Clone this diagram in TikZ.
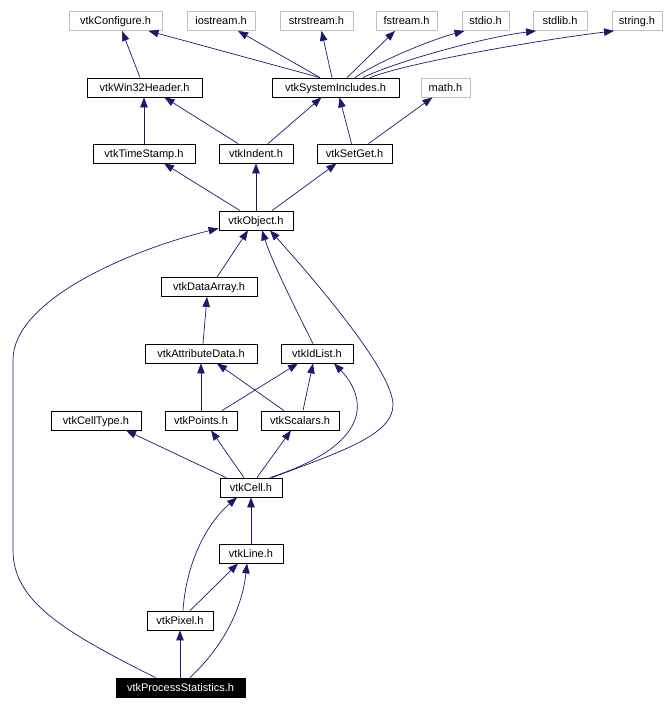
\documentclass[tikz,border=0pt]{standalone}
\usepackage{fontspec}
\setmainfont{Liberation Sans}
\usetikzlibrary{arrows.meta}
\definecolor{navy}{HTML}{191970}
\definecolor{lgray}{HTML}{BFBFBF}
\tikzset{
  hbox/.style={draw=black, fill=white, line width=0.8pt, minimum height=19pt, inner sep=0pt,
    text height=8pt, text depth=0.5pt, font=\fontsize{11}{13}\selectfont, text=black},
  gbox/.style={hbox, draw=lgray},
  mbox/.style={hbox, fill=black, text=white},
  edge/.style={draw=navy, line width=0.7pt, -{Triangle[length=10pt,width=7.5pt]}}
}
\begin{document}
\begin{tikzpicture}[x=1pt,y=-1pt]
\useasboundingbox[fill=white] (0,0) rectangle (666,709);
% top row
\node[gbox, minimum width=93pt] (conf) at (115.5,21) {vtkConfigure.h};
\node[gbox, minimum width=68pt] (iost) at (221,21) {iostream.h};
\node[gbox, minimum width=73pt] (strs) at (316.5,21) {strstream.h};
\node[gbox, minimum width=61pt] (fstr) at (406.5,21) {fstream.h};
\node[gbox, minimum width=47pt] (stdio) at (485.5,21) {stdio.h};
\node[gbox, minimum width=54pt] (stdlib) at (560,21) {stdlib.h};
\node[gbox, minimum width=50pt] (string) at (637,21) {string.h};
% row 2
\node[hbox, minimum width=115pt] (win32) at (144.5,87.5) {vtkWin32Header.h};
\node[hbox, minimum width=127pt] (sysinc) at (335.5,87.5) {vtkSystemIncludes.h};
\node[gbox, minimum width=49pt] (math) at (445.5,87.5) {math.h};
% row 3
\node[hbox, minimum width=102pt] (tstamp) at (144,153.5) {vtkTimeStamp.h};
\node[hbox, minimum width=74pt] (indent) at (256,153.5) {vtkIndent.h};
\node[hbox, minimum width=75pt] (setget) at (354.5,153.5) {vtkSetGet.h};
% object
\node[hbox, minimum width=74pt] (object) at (256,220.5) {vtkObject.h};
\node[hbox, minimum width=96pt] (darray) at (209,287) {vtkDataArray.h};
\node[hbox, minimum width=112pt] (attr) at (201,353.5) {vtkAttributeData.h};
\node[hbox, minimum width=72pt] (idlist) at (317,353.5) {vtkIdList.h};
\node[hbox, minimum width=90pt] (celltype) at (96,420.5) {vtkCellType.h};
\node[hbox, minimum width=72pt] (points) at (201,420.5) {vtkPoints.h};
\node[hbox, minimum width=78pt] (scalars) at (300,420.5) {vtkScalars.h};
\node[hbox, minimum width=62pt] (cell) at (251,487.5) {vtkCell.h};
\node[hbox, minimum width=64pt] (line) at (251,553.5) {vtkLine.h};
\node[hbox, minimum width=66pt] (pixel) at (180,620.5) {vtkPixel.h};
\node[mbox, minimum width=129pt] (proc) at (180.5,687.5) {vtkProcessStatistics.h};

% edges to top row
\draw[edge] ([xshift=-4.5pt]win32.north) -- ([xshift=6.5pt]conf.south);
\draw[edge] ([xshift=-15.5pt]sysinc.north) -- ([xshift=33pt]conf.south);
\draw[edge] ([xshift=-15.5pt]sysinc.north) -- ([xshift=17pt]iost.south);
\draw[edge] ([xshift=-3.5pt]sysinc.north) -- ([xshift=5pt]strs.south);
\draw[edge] ([xshift=11.5pt]sysinc.north) -- ([xshift=-11.5pt]fstr.south);
\draw[edge] ([xshift=19.5pt]sysinc.north) .. controls (375,63) and (430,40) .. ([xshift=-21pt]stdio.south);
\draw[edge] ([xshift=27.5pt]sysinc.north) .. controls (395,62) and (480,38) .. ([xshift=-24pt]stdlib.south);
\draw[edge] ([xshift=34.5pt]sysinc.north) .. controls (410,62) and (540,40) .. ([xshift=-23pt]string.south);
% row 3 to row 2
\draw[edge] (tstamp.north) -- (tstamp.north |- win32.south);
\draw[edge] ([xshift=-18pt]indent.north) -- ([xshift=20pt]win32.south);
\draw[edge] ([xshift=12pt]indent.north) -- ([xshift=-14pt]sysinc.south);
\draw[edge] ([xshift=-3pt]setget.north) -- ([xshift=4pt]sysinc.south);
\draw[edge] ([xshift=14pt]setget.north) -- ([xshift=-13pt]math.south);
% object to row 3
\draw[edge] ([xshift=-16pt]object.north) -- ([xshift=20pt]tstamp.south);
\draw[edge] (object.north) -- (indent.south);
\draw[edge] ([xshift=16pt]object.north) -- ([xshift=-18pt]setget.south);
% into object
\draw[edge] ([xshift=8pt]darray.north) -- ([xshift=-8pt]object.south);
\draw[edge] ([xshift=-4pt]idlist.north) .. controls (300,318) and (272,262) .. ([xshift=6pt]object.south);
\draw[edge] ([xshift=21pt]cell.north) .. controls (340,452) and (393,435) .. (393,405)
  .. controls (393,370) and (310,275) .. ([xshift=14pt]object.south);
\draw[edge] ([xshift=-25pt]proc.north) .. controls (60,630) and (13,600) .. (13,550) -- (13,360)
  .. controls (13,300) and (130,250) .. ([yshift=2pt]object.south west);
% data array / attribute
\draw[edge] ([xshift=2pt]attr.north) -- ([xshift=-2pt]darray.south);
\draw[edge] (points.north) -- (attr.south);
\draw[edge] ([xshift=-16pt]scalars.north) -- ([xshift=16pt]attr.south);
\draw[edge] ([xshift=21pt]points.north) -- ([xshift=-19pt]idlist.south);
\draw[edge] ([xshift=3pt]scalars.north) -- ([xshift=-4pt]idlist.south);
\draw[edge] ([xshift=19pt]cell.north) .. controls (385,440) and (360,390) .. ([xshift=17pt]idlist.south);
% cell
\draw[edge] ([xshift=-25pt]cell.north) -- ([xshift=30pt]celltype.south);
\draw[edge] ([xshift=-7pt]cell.north) -- ([xshift=10pt]points.south);
\draw[edge] ([xshift=6pt]cell.north) -- ([xshift=-9pt]scalars.south);
\draw[edge] (line.north) -- (cell.south);
\draw[edge] ([xshift=3pt]pixel.north) .. controls (186,565) and (205,525) .. ([xshift=-14pt]cell.south);
\draw[edge] ([xshift=10pt]pixel.north) -- ([xshift=-13pt]line.south);
\draw[edge] ([xshift=9.5pt]proc.north) .. controls (230,640) and (243,600) .. ([xshift=-4pt]line.south);
\draw[edge] ([xshift=-0.5pt]proc.north) -- (pixel.south);
\end{tikzpicture}
\end{document}
